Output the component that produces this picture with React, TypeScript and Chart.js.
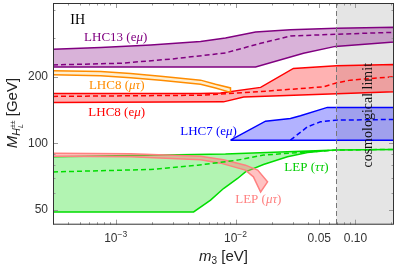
import React, { useEffect, useRef } from "react";
import { Chart, registerables } from "chart.js";

Chart.register(...registerables);

// ---- axes ----
const X_MIN = 3e-4;
const X_MAX = 0.21;
const Y_MIN = 43;
const Y_MAX = 430;
const COSMO_LIMIT = 0.0695;

const X_TICKS = [1e-3, 1e-2, 0.05, 0.1];
const X_TICK_LABELS = ["10^−3", "10^−2", "0.05", "0.10"];
const Y_TICKS = [50, 100, 200];
const Y_TICK_LABELS = ["50", "100", "200"];

// ---- LHC13 (eμ), purple ----
const LHC13_UP_X = [3e-4, 7.5e-4, 1.96e-3, 5.11e-3, 8.25e-3, 1.47e-2, 2.87e-2, 6.95e-2, 0.21];
const LHC13_UP_Y = [266, 271, 278, 288, 299, 318, 326, 331, 334];
const LHC13_LO_X = [3e-4, 1.47e-2, 3.69e-2, 6.81e-2, 0.21];
const LHC13_LO_Y = [221, 221, 255, 274, 287];
const LHC13_MID_X = [3e-4, 1.1e-3, 2.87e-3, 8.25e-3, 1.62e-2, 2.87e-2, 6.95e-2, 0.21];
const LHC13_MID_Y = [226, 230, 240, 256, 283, 305, 311, 317];

// ---- LHC8 (μτ), orange ----
const LHC8MT_X = [3e-4, 7.5e-4, 1.33e-3, 2.37e-3, 5.11e-3, 6.81e-3, 9.08e-3];
const LHC8MT_UP_Y = [213, 211, 206.5, 201, 193, 185, 178];
const LHC8MT_LO_Y = [204, 202, 198, 193, 185, 178, 170];

// ---- LHC8 (eμ), red ----
const LHC8EM_UP_X = [3e-4, 5.11e-3, 7.5e-3, 1.62e-2, 3.04e-2, 6.95e-2, 0.21];
const LHC8EM_UP_Y = [168, 168, 169, 179, 218, 224, 227];
const LHC8EM_LO_X = [3e-4, 7.94e-3, 1.17e-2, 0.21];
const LHC8EM_LO_Y = [153, 154, 162, 171];
const LHC8EM_MID_X = [3e-4, 5.11e-3, 7.5e-3, 1.53e-2, 5.41e-2, 6.81e-2, 9.08e-2, 0.21];
const LHC8EM_MID_Y = [163, 165, 167, 171, 180, 187, 193, 200];

// ---- LHC7 (eμ), blue ----
const LHC7_UP_X = [9.08e-3, 1.78e-2, 2.87e-2, 3.48e-2, 5.84e-2, 0.21];
const LHC7_UP_Y = [103.5, 126, 129.7, 133.2, 145.4, 145.4];
const LHC7_LO_X = [9.08e-3, 0.21];
const LHC7_LO_Y = [103.5, 103.5];
const LHC7_MID_X = [2.87e-2, 3.98e-2, 5.11e-2, 7.08e-2, 0.21];
const LHC7_MID_Y = [103.5, 118.8, 125.2, 127.4, 128.3];

// ---- LEP (ττ), green ----
const LEPTT_UP_X = [3e-4, 8.25e-3, 2.37e-2, 6.95e-2, 0.21];
const LEPTT_UP_Y = [87, 89.5, 91.6, 93.3, 94];
const LEPTT_LO_X = [3e-4, 4.47e-3, 6.19e-3, 7.94e-3, 1.04e-2, 1.21e-2, 1.71e-2, 2.71e-2, 3.98e-2, 6.56e-2, 0.21];
const LEPTT_LO_Y = [49.1, 49.1, 55.5, 62.6, 69.5, 74.4, 80.4, 87, 91.1, 93.3, 94];
const LEPTT_MID_X = [3e-4, 1.96e-3, 4.83e-3, 1.04e-2, 1.71e-2, 3.48e-2, 6.95e-2, 0.21];
const LEPTT_MID_Y = [74.4, 76.3, 79.8, 84.1, 88.6, 91.1, 93.3, 94];

// ---- LEP (μτ), pink ----
const LEPMT_UP_X = [3e-4, 1.33e-3, 5.11e-3, 7.94e-3, 1.21e-2, 1.53e-2, 1.85e-2];
const LEPMT_UP_Y = [90.4, 89.9, 87.6, 84.5, 79.8, 75.8, 67.1];
const LEPMT_LO_X = [3e-4, 1.33e-3, 5.11e-3, 7.5e-3, 1.21e-2, 1.41e-2, 1.62e-2];
const LEPMT_LO_Y = [87.6, 87.2, 84.5, 81.5, 75.8, 70.7, 60.4];

// ---- annotation texts (anchored in data coordinates) ----
type Part = { t: string; italic?: boolean; size?: number; dy?: number; noAdvance?: boolean };
const LABEL_PARTS: Part[][] = [
  [{ t: "IH" }],
  [{ t: "LHC13 (e" }, { t: "μ", italic: true }, { t: ")" }],
  [{ t: "LHC8 (" }, { t: "μτ", italic: true }, { t: ")" }],
  [{ t: "LHC8 (e" }, { t: "μ", italic: true }, { t: ")" }],
  [{ t: "LHC7 (e" }, { t: "μ", italic: true }, { t: ")" }],
  [{ t: "LEP (" }, { t: "ττ", italic: true }, { t: ")" }],
  [{ t: "LEP (" }, { t: "μτ", italic: true }, { t: ")" }],
];
const LABEL_X = [4.82e-4, 1.0e-3, 1.02e-3, 1.02e-3, 5.96e-3, 3.91e-2, 1.55e-2];
const LABEL_Y = [360, 300, 182.3, 137.7, 113.6, 78.2, 56.1];
const LABEL_COLORS = ["#000000", "#800080", "#ff8c00", "#ff0000", "#0000ff", "#00cc00", "#ff8080"];
const COSMO_TEXT = "cosmological limit";
const COSMO_TEXT_X = 0.128;
const COSMO_TEXT_Y = 134;

type P = { x: number; y: number };
const pts = (xs: number[], ys: number[]): P[] => xs.map((x, i) => ({ x, y: ys[i] }));
const band = (ux: number[], uy: number[], lx: number[], ly: number[]): P[] => [
  ...pts(ux, uy),
  ...pts(lx, ly).reverse(),
];

const SANS = "'Liberation Sans', Arial, sans-serif";
const SERIF = "'Liberation Serif', 'Times New Roman', serif";

function drawRich(ctx: CanvasRenderingContext2D, parts: Part[], cx: number, cy: number, family: string, base: number, color: string) {
  const font = (p: Part) => `${p.italic ? "italic " : ""}${p.size ?? base}px ${family}`;
  const widths = parts.map((p) => {
    ctx.font = font(p);
    return ctx.measureText(p.t).width;
  });
  let total = 0;
  parts.forEach((p, i) => {
    if (!p.noAdvance) total += widths[i];
  });
  let x = cx - total / 2;
  ctx.fillStyle = color;
  ctx.textAlign = "left";
  parts.forEach((p, i) => {
    ctx.font = font(p);
    ctx.fillText(p.t, x, cy + (p.dy ?? 0));
    if (!p.noAdvance) x += widths[i];
  });
}

const bgPlugin = {
  id: "cosmoBg",
  beforeDatasetsDraw(chart: any) {
    const { ctx, chartArea: a, scales } = chart;
    const xl = scales.x.getPixelForValue(COSMO_LIMIT);
    ctx.save();
    ctx.fillStyle = "#e5e5e5";
    ctx.fillRect(xl, a.top, a.right - xl, a.bottom - a.top);
    ctx.restore();
  },
};

const decoPlugin = {
  id: "deco",
  afterDraw(chart: any) {
    const { ctx, chartArea: a, scales } = chart;
    const xs = scales.x;
    const ys = scales.y;
    ctx.save();

    // cosmological limit dashed line
    const xl = xs.getPixelForValue(COSMO_LIMIT);
    ctx.strokeStyle = "#777";
    ctx.lineWidth = 1;
    ctx.setLineDash([5, 3]);
    ctx.beginPath();
    ctx.moveTo(Math.round(xl) + 0.5, a.top);
    ctx.lineTo(Math.round(xl) + 0.5, a.bottom);
    ctx.stroke();
    ctx.setLineDash([]);

    // inner ticks
    ctx.strokeStyle = "#999";
    for (let n = -4; n <= 0; n++) {
      for (let k = 1; k <= 9; k++) {
        const v = k * Math.pow(10, n);
        if (v <= X_MIN || v >= X_MAX) continue;
        const major = X_TICKS.some((t) => Math.abs(t - v) / v < 1e-6);
        const len = major ? 5 : 2.5;
        const px = Math.round(xs.getPixelForValue(v)) + 0.5;
        ctx.beginPath();
        ctx.moveTo(px, a.bottom);
        ctx.lineTo(px, a.bottom - len);
        ctx.moveTo(px, a.top);
        ctx.lineTo(px, a.top + len);
        ctx.stroke();
      }
    }
    for (let n = 1; n <= 2; n++) {
      for (let k = 1; k <= 9; k++) {
        const v = k * Math.pow(10, n);
        if (v <= Y_MIN || v >= Y_MAX) continue;
        const major = Y_TICKS.indexOf(v) >= 0;
        const len = major ? 5 : 2.5;
        const py = Math.round(ys.getPixelForValue(v)) + 0.5;
        ctx.beginPath();
        ctx.moveTo(a.left, py);
        ctx.lineTo(a.left + len, py);
        ctx.moveTo(a.right, py);
        ctx.lineTo(a.right - len, py);
        ctx.stroke();
      }
    }

    // frame
    ctx.strokeStyle = "#333";
    ctx.lineWidth = 1;
    ctx.strokeRect(a.left + 0.5, a.top + 0.5, a.right - a.left - 1, a.bottom - a.top - 1);

    // y tick labels
    ctx.fillStyle = "#333";
    ctx.font = `12px ${SANS}`;
    ctx.textAlign = "right";
    ctx.textBaseline = "middle";
    Y_TICKS.forEach((v, i) => {
      ctx.fillText(Y_TICK_LABELS[i], a.left - 5, ys.getPixelForValue(v));
    });

    // x tick labels
    ctx.textBaseline = "middle";
    X_TICKS.forEach((v, i) => {
      const [base, sup] = X_TICK_LABELS[i].split("^");
      const parts: Part[] = [{ t: base, size: 12 }];
      if (sup) parts.push({ t: sup, size: 8.5, dy: -4 });
      drawRich(ctx, parts, xs.getPixelForValue(v), a.bottom + 14, SANS, 12, "#333");
    });

    // x title
    ctx.textBaseline = "alphabetic";
    drawRich(
      ctx,
      [{ t: "m", italic: true }, { t: "3", size: 10, dy: 3 }, { t: " [eV]" }],
      (a.left + a.right) / 2,
      261,
      SANS,
      15,
      "#222"
    );

    // y title
    ctx.save();
    ctx.translate(17, 113);
    ctx.rotate(-Math.PI / 2);
    ctx.textBaseline = "alphabetic";
    drawRich(
      ctx,
      [
        { t: "M", italic: true, size: 15 },
        { t: "H", italic: true, size: 10.5, dy: 3 },
        { t: "L", italic: true, size: 7, dy: 6, noAdvance: true },
        { t: "±±", size: 7, dy: -2 },
        { t: " [GeV]", size: 15 },
      ],
      0,
      0,
      SANS,
      15,
      "#222"
    );
    ctx.restore();

    // in-plot labels
    ctx.textBaseline = "middle";
    LABEL_PARTS.forEach((parts, i) => {
      const size = i === 0 ? 14 : 13;
      drawRich(ctx, parts, xs.getPixelForValue(LABEL_X[i]), ys.getPixelForValue(LABEL_Y[i]), SERIF, size, LABEL_COLORS[i]);
    });

    // cosmological limit text
    ctx.save();
    ctx.translate(xs.getPixelForValue(COSMO_TEXT_X), ys.getPixelForValue(COSMO_TEXT_Y));
    ctx.rotate(-Math.PI / 2);
    ctx.font = `14px ${SERIF}`;
    ctx.fillStyle = "#111";
    ctx.textAlign = "center";
    ctx.textBaseline = "middle";
    ctx.fillText(COSMO_TEXT, 0, 0);
    ctx.restore();

    ctx.restore();
  },
};

function bandDs(data: P[], border: string, fillColor: string, order: number) {
  return {
    data,
    borderColor: border,
    backgroundColor: fillColor,
    borderWidth: 1.5,
    fill: "shape",
    pointRadius: 0,
    tension: 0,
    order,
  };
}
function dashDs(data: P[], color: string, order: number) {
  return {
    data,
    borderColor: color,
    backgroundColor: color,
    borderWidth: 1.5,
    borderDash: [5, 3],
    fill: false,
    pointRadius: 0,
    tension: 0,
    order,
  };
}

export default function App() {
  const ref = useRef<HTMLCanvasElement | null>(null);
  useEffect(() => {
    document.body.style.margin = "0";
    if (!ref.current) return;
    const chart = new Chart(ref.current, {
      type: "line",
      data: {
        datasets: [
          bandDs(band(LEPTT_UP_X, LEPTT_UP_Y, LEPTT_LO_X, LEPTT_LO_Y), "#00dd00", "rgba(0,220,0,0.3)", 20),
          bandDs(band(LEPMT_UP_X, LEPMT_UP_Y, LEPMT_LO_X, LEPMT_LO_Y), "#ff8080", "rgba(255,120,120,0.45)", 19),
          bandDs(band(LHC7_UP_X, LHC7_UP_Y, LHC7_LO_X, LHC7_LO_Y), "#0000ff", "rgba(0,0,255,0.3)", 18),
          bandDs(band(LHC8EM_UP_X, LHC8EM_UP_Y, LHC8EM_LO_X, LHC8EM_LO_Y), "#ff0000", "rgba(255,0,0,0.3)", 17),
          bandDs(band(LHC8MT_X, LHC8MT_UP_Y, LHC8MT_X, LHC8MT_LO_Y), "#ff8c00", "rgba(255,210,120,0.35)", 16),
          bandDs(band(LHC13_UP_X, LHC13_UP_Y, LHC13_LO_X, LHC13_LO_Y), "#800080", "rgba(128,0,128,0.3)", 15),
          dashDs(pts(LEPTT_MID_X, LEPTT_MID_Y), "#00dd00", 5),
          dashDs(pts(LHC7_MID_X, LHC7_MID_Y), "#0000ff", 4),
          dashDs(pts(LHC8EM_MID_X, LHC8EM_MID_Y), "#ff0000", 3),
          dashDs(pts(LHC13_MID_X, LHC13_MID_Y), "#800080", 2),
        ] as any,
      },
      options: {
        animation: false,
        responsive: false,
        devicePixelRatio: 1,
        layout: { padding: { left: 53, right: 5, top: 3, bottom: 43.3 } },
        scales: {
          x: { type: "logarithmic", min: X_MIN, max: X_MAX, display: false },
          y: { type: "logarithmic", min: Y_MIN, max: Y_MAX, display: false },
        },
        plugins: { legend: { display: false }, tooltip: { enabled: false } },
        elements: { point: { radius: 0 } },
      } as any,
      plugins: [bgPlugin, decoPlugin],
    });
    return () => chart.destroy();
  }, []);
  return (
    <div style={{ width: 399, height: 268 }}>
      <canvas ref={ref} width={399} height={268} style={{ display: "block" }} />
    </div>
  );
}
